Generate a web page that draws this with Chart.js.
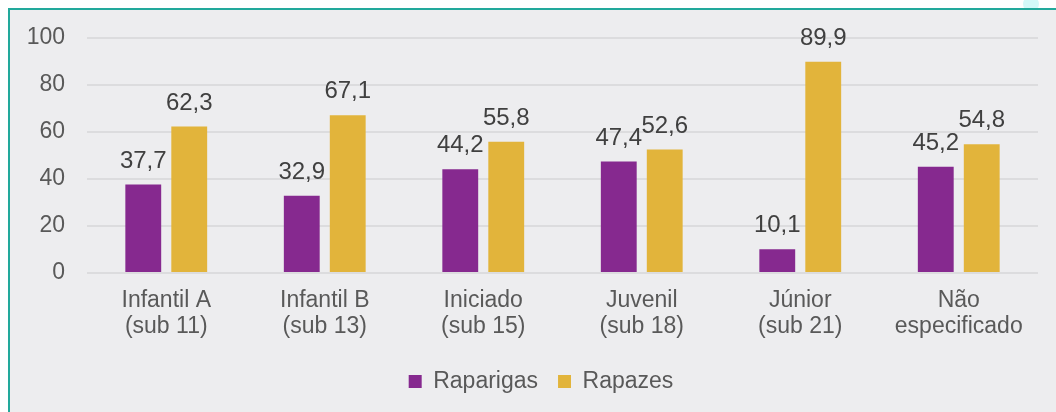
<!DOCTYPE html>
<html>
<head>
<meta charset="utf-8">
<script src="https://cdn.jsdelivr.net/npm/chart.js@4.4.1/dist/chart.umd.min.js"></script>
<style>
html,body{margin:0;padding:0;background:#fff;}
canvas{display:block;}
</style>
</head>
<body>
<canvas id="c" width="1056" height="412"></canvas>
<script>
const categories = [["Infantil A","(sub 11)"],["Infantil B","(sub 13)"],["Iniciado","(sub 15)"],["Juvenil","(sub 18)"],["Júnior","(sub 21)"],["Não","especificado"]];
const raparigas = [37.7, 32.9, 44.2, 47.4, 10.1, 45.2];
const rapazes = [62.3, 67.1, 55.8, 52.6, 89.9, 54.8];
const seriesNames = ["Raparigas", "Rapazes"];
const yTicks = [0, 20, 40, 60, 80, 100];

const FONT = "'Liberation Sans', Arial, sans-serif";
Chart.defaults.font.family = FONT;

const bgPlugin = {
  id: 'bg',
  afterLayout(chart) {
    if (chart.legend) { chart.legend.left += 22; chart.legend.right += 22; }
  },
  beforeDraw(chart) {
    const ctx = chart.ctx;
    const W = chart.width, H = chart.height;
    ctx.save();
    ctx.fillStyle = '#ffffff';
    ctx.fillRect(0, 0, W, H);
    ctx.fillStyle = '#d3f9f9';
    ctx.beginPath();
    ctx.arc(1031, 4, 8, 0, Math.PI * 2);
    ctx.fill();
    ctx.fillStyle = '#ededef';
    ctx.fillRect(9, 10, W - 9, H - 10);
    ctx.fillStyle = '#22a99c';
    ctx.fillRect(8, 8, W - 8, 2);
    ctx.fillRect(8, 8, 2, H - 8);
    ctx.restore();
  }
};

const labelPlugin = {
  id: 'vals',
  afterDatasetsDraw(chart) {
    const ctx = chart.ctx;
    ctx.save();
    ctx.font = "24px " + FONT;
    ctx.fillStyle = '#404040';
    ctx.textAlign = 'center';
    ctx.textBaseline = 'middle';
    chart.data.datasets.forEach((ds, i) => {
      chart.getDatasetMeta(i).data.forEach((bar, j) => {
        const txt = ds.data[j].toFixed(1).replace('.', ',');
        ctx.fillText(txt, bar.x, bar.y - 23.5);
      });
    });
    ctx.restore();
  }
};

new Chart(document.getElementById('c'), {
  type: 'bar',
  data: {
    labels: categories,
    datasets: [
      { label: seriesNames[0], data: raparigas, backgroundColor: '#86298f', borderWidth: 0,
        categoryPercentage: 0.58, barPercentage: 0.78 },
      { label: seriesNames[1], data: rapazes, backgroundColor: '#e2b43b', borderWidth: 0,
        categoryPercentage: 0.58, barPercentage: 0.78 }
    ]
  },
  options: {
    responsive: false,
    animation: false,
    layout: { padding: { left: 0, right: 18, top: 38, bottom: 9 } },
    plugins: {
      legend: {
        position: 'bottom',
        labels: { boxWidth: 13, boxHeight: 13, padding: 20, color: '#595959', font: { size: 23 } }
      },
      tooltip: { enabled: false }
    },
    scales: {
      x: {
        grid: { display: false, drawTicks: false },
        border: { display: false },
        ticks: { color: '#595959', font: { size: 23, lineHeight: 1.15 }, padding: 14, maxRotation: 0, autoSkip: false },
        afterFit(s) { s.height = 77; }
      },
      y: {
        min: 0, max: 100,
        afterBuildTicks(s) { s.ticks = yTicks.map(v => ({ value: v })); },
        grid: { color: '#dcdcde', lineWidth: 2, drawTicks: false },
        border: { display: false },
        ticks: { color: '#595959', font: { size: 23 }, padding: 22 },
        afterFit(s) { s.width = 87; }
      }
    }
  },
  plugins: [bgPlugin, labelPlugin]
});
</script>
</body>
</html>
